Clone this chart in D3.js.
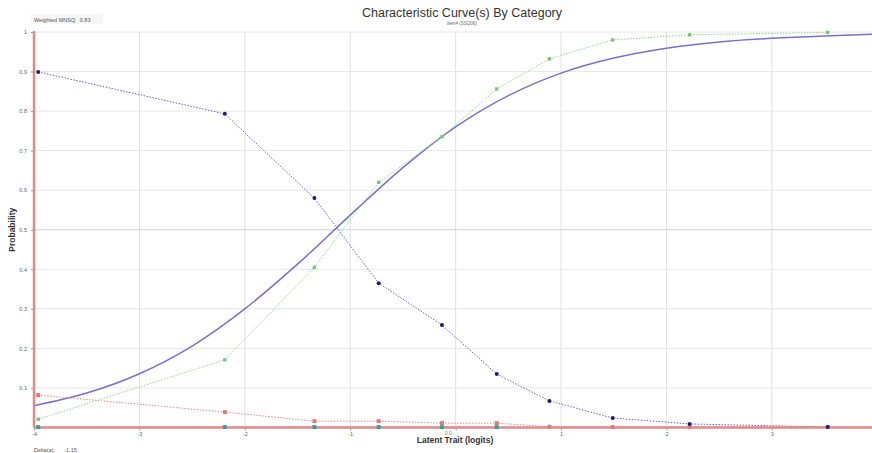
<!DOCTYPE html>
<html>
<head>
<meta charset="utf-8">
<script src="https://cdn.jsdelivr.net/npm/d3@7"></script>
<style>
  html, body { margin: 0; padding: 0; background: #fff; }
  svg { display: block; font-family: "Liberation Sans", Arial, sans-serif; }
</style>
</head>
<body>
<svg id="chart" width="872" height="453"></svg>
<script>
// ---- data ----
const measures = [-3.96, -2.19, -1.34, -0.73, -0.13, 0.39, 0.89, 1.49, 2.22, 3.53];
const cat0 = [0.899, 0.793, 0.580, 0.365, 0.259, 0.135, 0.067, 0.024, 0.009, 0.001];
const cat1 = [0.021, 0.171, 0.405, 0.620, 0.735, 0.856, 0.932, 0.980, 0.993, 0.999];
const cat2 = [0.082, 0.039, 0.016, 0.016, 0.011, 0.011, 0.002, 0.001, 0.001, 0.001];
const cat3 = [0.001, 0.001, 0.001, 0.001, 0.001, 0.001];
const modelX = [-4, -3.5, -3, -2.5, -2, -1.5, -1, -0.5, 0, 0.5, 1, 1.5, 2, 2.5, 3, 3.5, 3.95];
const modelY = [0.055, 0.087, 0.136, 0.206, 0.300, 0.413, 0.537, 0.657, 0.760, 0.839, 0.896, 0.934, 0.959, 0.975, 0.984, 0.990, 0.994];
const xTicks = [-4, -3, -2, -1, 0, 1, 2, 3];
const xTickLabels = ["-4", "-3", "-2", "-1", "", "1", "2", "3"];
const yTicks = [0.1, 0.2, 0.3, 0.4, 0.5, 0.6, 0.7, 0.8, 0.9, 1];
const yTickLabels = ["0.1", "0.2", "0.3", "0.4", "0.5", "0.6", "0.7", "0.8", "0.9", "1"];
const titleText = "Characteristic Curve(s) By Category";
const subtitleText = "item4 (SSQ06)";
const mnsqText = "Weighted MNSQ   0.83";
const deltaText = "Delta(a):      -1.15";
const xLabel = "Latent Trait (logits)";
const yLabel = "Probability";

// ---- layout ----
const svg = d3.select("#chart");
const L = 34, R = 872, T = 32, B = 427.5;
const x = d3.scaleLinear().domain([-4, 3.95]).range([L, R]);
const y = d3.scaleLinear().domain([0, 1]).range([B, T]);

// gridlines
const grid = svg.append("g");
grid.selectAll("line.v").data(xTicks.filter(d => d > -4)).join("line")
  .attr("x1", d => x(d)).attr("x2", d => x(d)).attr("y1", T).attr("y2", B)
  .attr("stroke", "#e0e0e0").attr("stroke-width", 1);
grid.selectAll("line.h").data(yTicks).join("line")
  .attr("x1", L).attr("x2", R).attr("y1", d => y(d)).attr("y2", d => y(d))
  .attr("stroke", d => d === 0.5 ? "#d2d2d2" : "#e6e6e6").attr("stroke-width", 1);

// y axis ticks and labels
const yAxis = d3.axisLeft(y).tickValues(yTicks).tickSize(3)
  .tickFormat((d, i) => yTickLabels[i]);
const gy = svg.append("g").attr("transform", `translate(${L},0)`).call(yAxis);
gy.select(".domain").remove();
gy.selectAll(".tick line").attr("stroke", "#999");
gy.selectAll(".tick text").attr("font-size", 5.5).attr("fill", "#666")
  .attr("font-family", "Liberation Sans, Arial, sans-serif").attr("dx", -1);

// x axis ticks and labels
const xAxis = d3.axisBottom(x).tickValues(xTicks).tickSize(3)
  .tickFormat((d, i) => xTickLabels[i]);
const gx = svg.append("g").attr("transform", `translate(0,${B})`).call(xAxis);
gx.select(".domain").remove();
gx.selectAll(".tick line").attr("stroke", "#999");
gx.selectAll(".tick text").attr("font-size", 5.5).attr("fill", "#666")
  .attr("font-family", "Liberation Sans, Arial, sans-serif").attr("dy", "0.5em");
svg.append("text").attr("x", x(-0.07)).attr("y", B + 7).attr("text-anchor", "middle")
  .attr("font-size", 5).attr("fill", "#777").text("0.0");

// model curve (expected score)
const lineModel = d3.line().x((d, i) => x(modelX[i])).y(d => y(d)).curve(d3.curveMonotoneX);
svg.append("path").datum(modelY).attr("d", lineModel)
  .attr("fill", "none").attr("stroke", "#7a6fd0").attr("stroke-width", 1.5);

// observed series
const series = [
  { vals: cat3, line: "#5fbfb0", pt: "#2aa596", shape: "square", r: 2 },
  { vals: cat2, line: "#e58c8c", pt: "#e07a7a", shape: "square", r: 2 },
  { vals: cat1, line: "#8fd88f", pt: "#74c874", shape: "square", r: 1.7 },
  { vals: cat0, line: "#6363d0", pt: "#1c1c70", shape: "circle", r: 2 }
];
const lineObs = d3.line().x((d, i) => x(measures[i])).y(d => y(d));
series.forEach(s => {
  svg.append("path").datum(s.vals).attr("d", lineObs)
    .attr("fill", "none").attr("stroke", s.line).attr("stroke-width", 1)
    .attr("stroke-dasharray", "1.5,1.5");
});

// axis lines (red)
svg.append("line").attr("x1", L).attr("x2", R).attr("y1", B).attr("y2", B)
  .attr("stroke", "#e8868a").attr("stroke-width", 2.5);
svg.append("line").attr("x1", L).attr("x2", L).attr("y1", T - 1).attr("y2", B)
  .attr("stroke", "#e8868a").attr("stroke-width", 2.5);

series.forEach(s => {
  const g = svg.append("g");
  if (s.shape === "circle") {
    g.selectAll("circle").data(s.vals).join("circle")
      .attr("cx", (d, i) => x(measures[i])).attr("cy", d => y(d)).attr("r", s.r)
      .attr("fill", s.pt);
  } else {
    g.selectAll("rect").data(s.vals).join("rect")
      .attr("x", (d, i) => x(measures[i]) - s.r).attr("y", d => y(d) - s.r)
      .attr("width", s.r * 2).attr("height", s.r * 2).attr("fill", s.pt);
  }
});

// texts
svg.append("text").attr("x", 462).attr("y", 17).attr("text-anchor", "middle")
  .attr("font-size", 12.5).attr("fill", "#333").text(titleText);
svg.append("text").attr("x", 462).attr("y", 25).attr("text-anchor", "middle")
  .attr("font-size", 4.5).attr("fill", "#666").text(subtitleText);
svg.append("rect").attr("x", 31).attr("y", 14).attr("width", 72).attr("height", 10)
  .attr("fill", "#f6f6f6");
svg.append("text").attr("x", 34).attr("y", 21.5).attr("font-size", 5.5).attr("fill", "#555")
  .attr("xml:space", "preserve").text(mnsqText);
svg.append("text").attr("x", 34).attr("y", 452).attr("font-size", 5.5).attr("fill", "#555")
  .attr("xml:space", "preserve").text(deltaText);
svg.append("text").attr("x", 455).attr("y", 443).attr("text-anchor", "middle")
  .attr("font-size", 8.5).attr("font-weight", "bold").attr("fill", "#333").text(xLabel);
svg.append("text").attr("transform", `translate(15,${y(0.5)}) rotate(-90)`)
  .attr("text-anchor", "middle").attr("font-size", 8.5).attr("font-weight", "bold")
  .attr("fill", "#333").text(yLabel);
</script>
</body>
</html>
